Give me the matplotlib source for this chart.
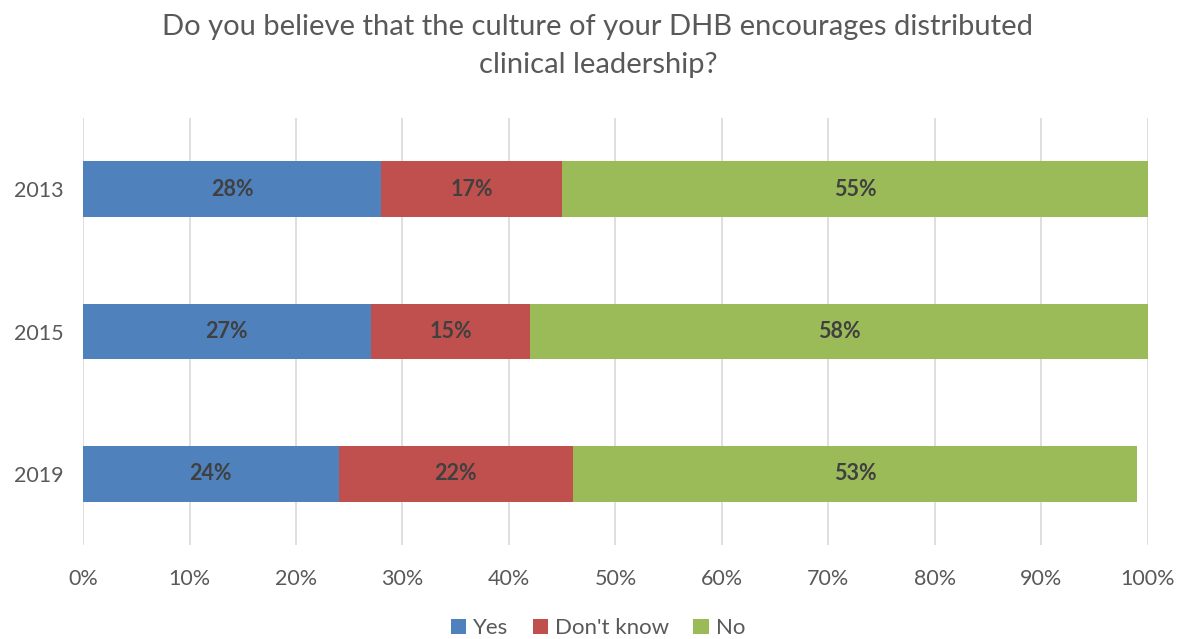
import matplotlib
matplotlib.use("Agg")
import matplotlib.pyplot as plt
from matplotlib.ticker import FuncFormatter, MultipleLocator

years = ["2013", "2015", "2019"]
yes = [28, 27, 24]
dont_know = [17, 15, 22]
no = [55, 58, 53]

series = [("Yes", yes, "#4F81BD"),
          ("Don't know", dont_know, "#C0504D"),
          ("No", no, "#9BBB59")]

plt.rcParams["font.family"] = ["Lato", "DejaVu Sans"]

fig = plt.figure(figsize=(11.79, 6.39), dpi=100)
ax = fig.add_axes([0.0704, 0.147, 0.9033, 0.6683])

ypos = list(range(len(years)))
left = [0] * len(years)
for name, vals, color in series:
    bars = ax.barh(ypos, vals, left=left, height=0.39, color=color, label=name, zorder=2)
    for rect, v in zip(bars, vals):
        ax.text(rect.get_x() + rect.get_width() / 2, rect.get_y() + rect.get_height() / 2,
                f"{v}%", ha="center", va="center", fontsize=15.5,
                fontweight="bold", color="#404040", zorder=3)
    left = [l + v for l, v in zip(left, vals)]

ax.set_xlim(0, 100)
ax.set_ylim(2.5, -0.5)
ax.set_yticks(ypos)
ax.set_yticklabels(years)
ax.xaxis.set_major_locator(MultipleLocator(10))
ax.xaxis.set_major_formatter(FuncFormatter(lambda x, _: f"{x:.0f}%"))
ax.tick_params(axis="both", length=0, labelsize=15.5, colors="#595959")
ax.tick_params(axis="x", pad=17)
ax.tick_params(axis="y", pad=14)
ax.grid(axis="x", color="#d9d9d9", linewidth=1.2, zorder=0)
for s in ax.spines.values():
    s.set_visible(False)

fig.suptitle("Do you believe that the culture of your DHB encourages distributed\nclinical leadership?",
             x=0.507, y=0.978, fontsize=21, color="#595959", linespacing=1.55)

fig.legend(loc="lower center", bbox_to_anchor=(0.507, -0.03), ncol=3, frameon=False,
           fontsize=16, handlelength=0.7, handleheight=0.7, handletextpad=0.3,
           columnspacing=1.1, labelcolor="#595959")

fig.savefig("out.png", dpi=100)
